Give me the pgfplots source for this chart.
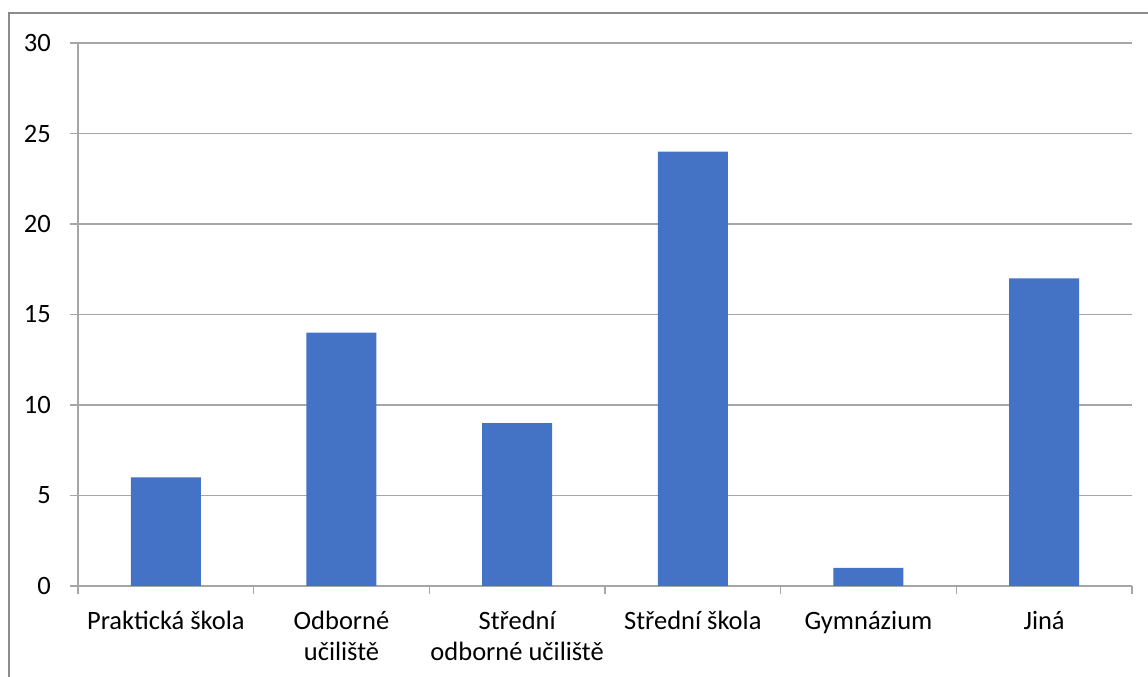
\documentclass[border=0pt]{standalone}
\usepackage{fontspec}
\setmainfont{Carlito}
\usepackage{pgfplots}
\pgfplotsset{compat=1.18}
\definecolor{barblue}{HTML}{4472C4}
\definecolor{gridgray}{HTML}{A6A6A6}
\definecolor{framegray}{HTML}{8C8C8C}
\begin{document}
\begin{tikzpicture}
\path[use as bounding box] (0,0) rectangle (1148bp,677bp);
\draw[framegray, line width=1.2bp] (9bp,-20bp) -- (9bp,664bp) -- (1170bp,664bp);
\begin{axis}[
  at={(78bp,91bp)}, anchor=south west,
  scale only axis, width=1054bp, height=543bp,
  xmin=-0.5, xmax=5.5, ymin=0, ymax=30,
  ytick={0,5,...,30},
  xtick={0,...,5},
  xticklabels={Praktická škola, {Odborné\\učiliště}, {Střední\\odborné učiliště}, Střední škola, Gymnázium, Jiná},
  minor xtick={-0.5,0.5,...,5.5},
  axis x line*=bottom, axis y line*=left,
  axis line style={-, draw=gridgray, line width=1.2bp},
  ymajorgrids, grid style={gridgray, line width=1.2bp},
  tick align=outside,
  major tick length=8bp, minor tick length=8bp,
  x tick style={draw=none},
  minor x tick style={draw=gridgray, line width=1.2bp},
  y tick style={draw=gridgray, line width=1.2bp},
  tick label style={font=\fontsize{26.5bp}{31bp}\selectfont},
  xticklabel style={align=center, anchor=north, inner sep=0pt, yshift=-17bp},
  yticklabel style={anchor=east, inner sep=0pt, xshift=-19bp},
  /pgf/number format/assume math mode=true,
  ybar, bar width=70bp,
  clip=false,
]
\addplot[fill=barblue, draw=none] coordinates {(0,6) (1,14) (2,9) (3,24) (4,1) (5,17)};
\end{axis}
\end{tikzpicture}
\end{document}
